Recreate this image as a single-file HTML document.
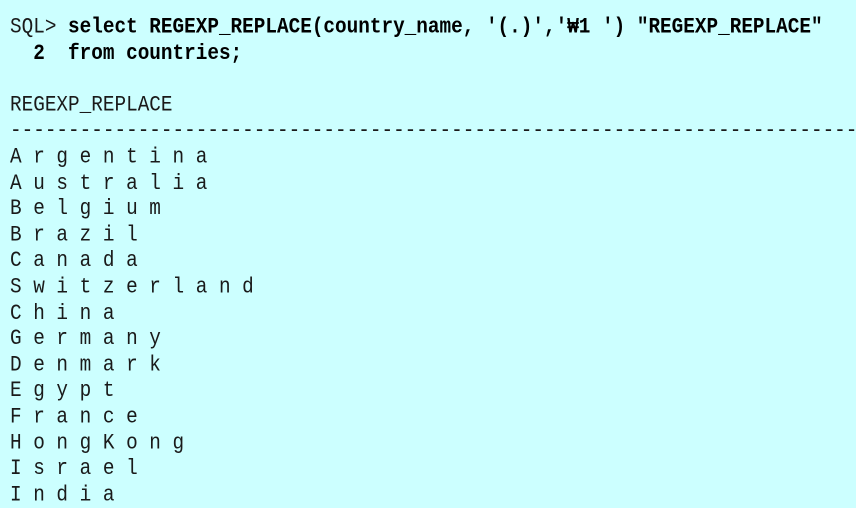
<!DOCTYPE html>
<html><head><style>
html,body{margin:0;padding:0;background:#ccffff;width:856px;height:487px;overflow:hidden}
pre{position:absolute;left:10px;top:14px;margin:0;font-family:"Liberation Mono","DejaVu Sans Mono","Noto Sans CJK KR",monospace;font-size:19.35px;line-height:22.6px;color:#1a1a1a;transform:scaleY(1.15);transform-origin:0 0;white-space:pre}
b{font-weight:bold;color:#000}
</style></head><body>
<pre>SQL&gt; <b>select REGEXP_REPLACE(country_name, '(.)','₩1 ') "REGEXP_REPLACE"</b>
  <b>2  from countries;</b>

REGEXP_REPLACE
--------------------------------------------------------------------------
A r g e n t i n a
A u s t r a l i a
B e l g i u m
B r a z i l
C a n a d a
S w i t z e r l a n d
C h i n a
G e r m a n y
D e n m a r k
E g y p t
F r a n c e
H o n g K o n g
I s r a e l
I n d i a</pre>
</body></html>
